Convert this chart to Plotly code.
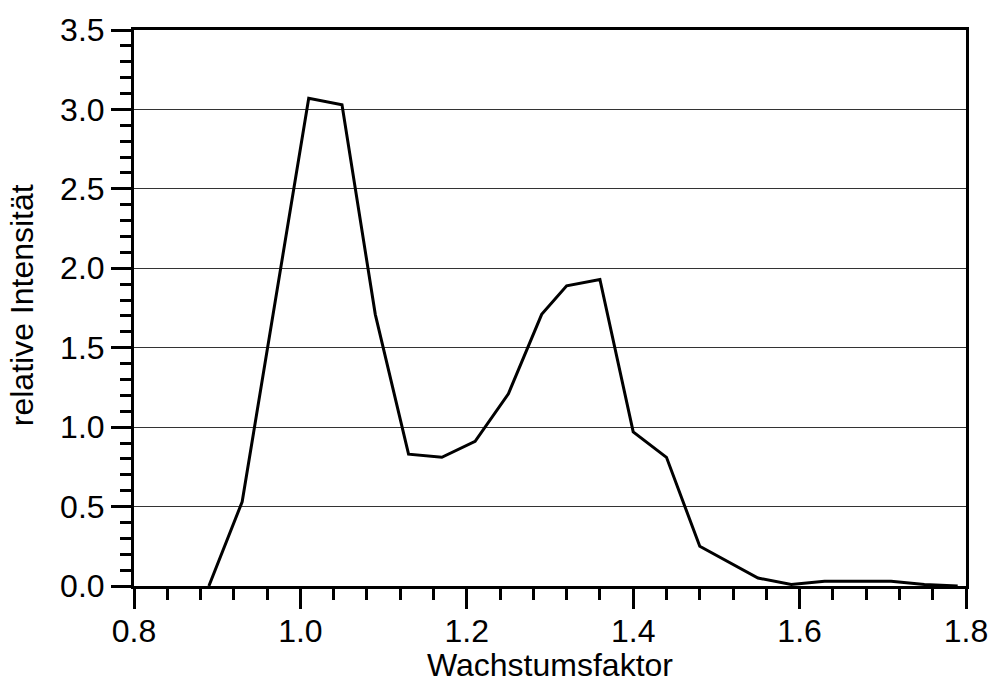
import plotly.graph_objects as go

wachstumsfaktor = [0.89, 0.93, 1.01, 1.05, 1.09, 1.13, 1.17, 1.21, 1.25, 1.29, 1.32, 1.36,
                   1.40, 1.44, 1.48, 1.55, 1.59, 1.63, 1.67, 1.71, 1.75, 1.79]
intensitaet = [0.0, 0.53, 3.07, 3.03, 1.71, 0.83, 0.81, 0.91, 1.21, 1.71, 1.89, 1.93,
               0.97, 0.81, 0.25, 0.05, 0.01, 0.03, 0.03, 0.03, 0.01, 0.0]

x_ticks = [0.8, 1.0, 1.2, 1.4, 1.6, 1.8]
x_ticklabels = ["0.8", "1.0", "1.2", "1.4", "1.6", "1.8"]
y_ticks = [0.0, 0.5, 1.0, 1.5, 2.0, 2.5, 3.0, 3.5]
y_ticklabels = ["0.0", "0.5", "1.0", "1.5", "2.0", "2.5", "3.0", "3.5"]
x_title = "Wachstumsfaktor"
y_title = "relative Intensität"

font = "Liberation Sans, Arial, sans-serif"

fig = go.Figure()
fig.add_trace(go.Scatter(x=wachstumsfaktor, y=intensitaet, mode="lines",
                         line=dict(color="black", width=3), hoverinfo="x+y"))

fig.update_layout(
    width=991, height=685,
    margin=dict(l=134, r=25, t=30, b=99, autoexpand=False),
    paper_bgcolor="white", plot_bgcolor="white",
    showlegend=False,
    font=dict(family=font, size=32, color="black"),
    xaxis=dict(
        range=[0.8, 1.8], tickvals=x_ticks, ticktext=x_ticklabels,
        ticks="outside", ticklen=20, tickwidth=2.5, tickcolor="black",
        showline=True, linewidth=3, linecolor="black", mirror=True,
        showgrid=False, zeroline=False, automargin=False,
        tickfont=dict(size=32), ticklabelstandoff=-5,
        minor=dict(ticks="outside", ticklen=11, tickwidth=2.5, tickcolor="black", dtick=0.04, tick0=0.8, showgrid=False),
    ),
    yaxis=dict(
        range=[0, 3.5], tickvals=y_ticks, ticktext=y_ticklabels,
        ticks="outside", ticklen=20, tickwidth=2.5, tickcolor="black",
        showline=True, linewidth=3, linecolor="black", mirror=True,
        showgrid=True, gridcolor="#333333", gridwidth=1, zeroline=False, automargin=False,
        tickfont=dict(size=32),
        minor=dict(ticks="outside", ticklen=11, tickwidth=2.5, tickcolor="black", dtick=0.1, tick0=0, showgrid=False),
    ),
    annotations=[
        dict(text=x_title, xref="paper", yref="paper", x=0.5, y=-0.178,
             xanchor="center", yanchor="bottom", showarrow=False, font=dict(size=32)),
        dict(text=y_title, xref="paper", yref="paper", x=-0.1346, y=0.505, textangle=-90,
             xanchor="center", yanchor="middle", showarrow=False, font=dict(size=32)),
    ],
)

fig.write_html("out.html")
